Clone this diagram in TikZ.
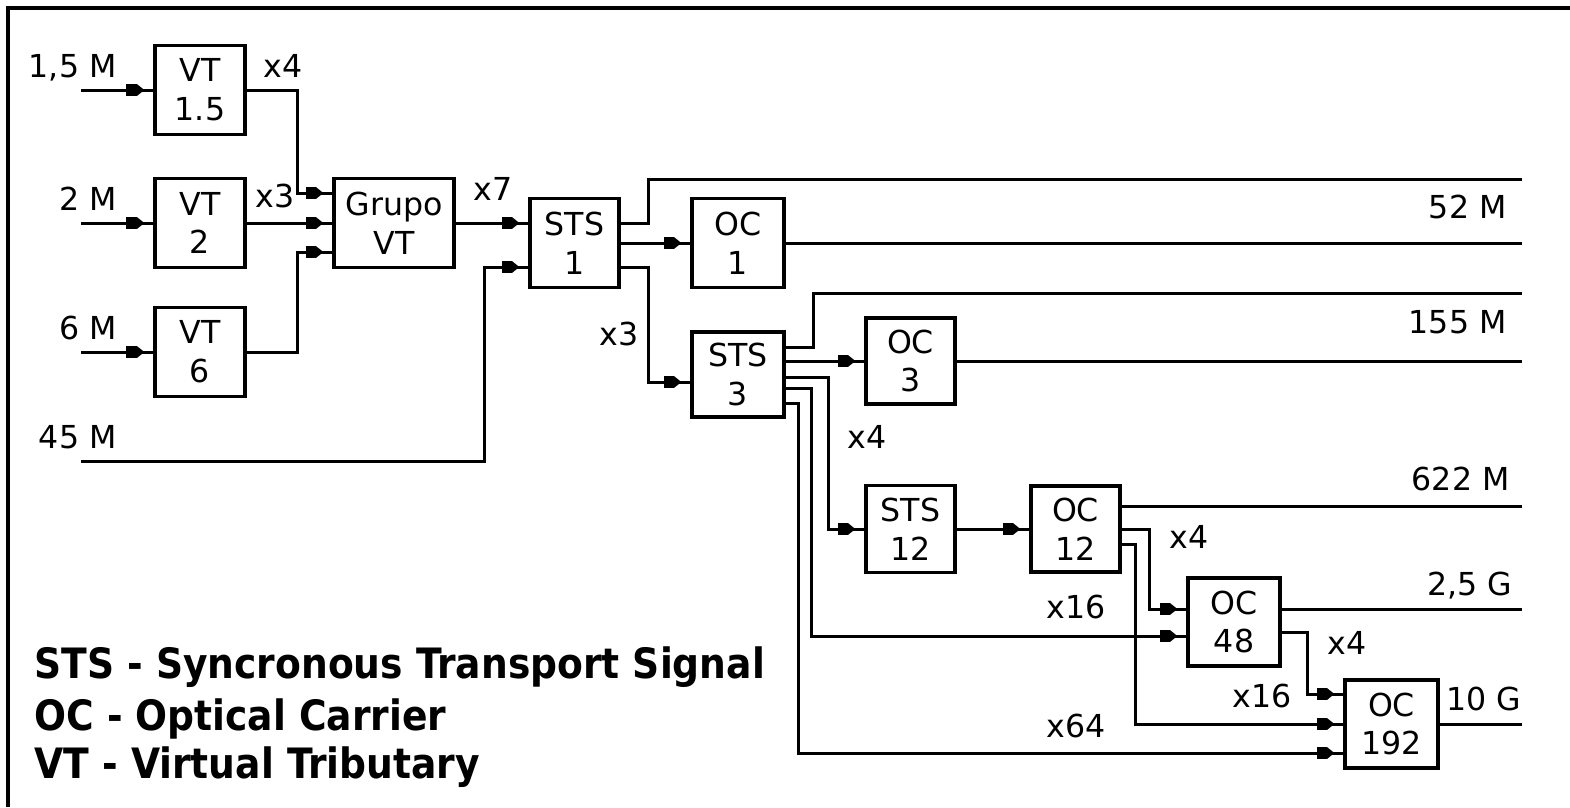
\documentclass[tikz,border=0pt]{standalone}
\usepackage{fontspec}
\setmainfont{DejaVu Sans}
\newfontfamily\legendfont{DejaVu Sans Condensed Bold}
\usetikzlibrary{arrows.meta,decorations.markings}
\begin{document}
\begin{tikzpicture}[x=0.1mm,y=-0.1mm,line width=0.85pt,
  blk/.style={draw,line width=0.9pt,inner sep=0pt,align=center,font=\fontsize{9}{11}\selectfont},
  lbl/.style={inner sep=0pt,font=\fontsize{9}{11}\selectfont},
  conn/.style={postaction={decorate},decoration={markings,mark=at position -0.9mm with {\arrow{Rectangle[length=3pt,width=3.6pt] Triangle[length=2.1pt,width=3.2pt]}}}},
  legend/.style={inner sep=0pt,anchor=base west,font=\legendfont\fontsize{11.9}{14}\selectfont}]
\fill[white] (0,0) rectangle (1570,807);
\useasboundingbox (0,0) rectangle (1570,807);
\draw[line width=0.9pt] (8,807) -- (8,8) -- (1570,8);

% boxes
\node[blk,minimum width=9mm,minimum height=8.9mm] (vt15) at (200,90) {VT\\1.5};
\node[blk,minimum width=9mm,minimum height=8.9mm] (vt2) at (200,223) {VT\\2};
\node[blk,minimum width=9mm,minimum height=8.9mm] (vt6) at (200,352) {VT\\6};
\node[blk,minimum width=12mm,minimum height=8.9mm] (grupo) at (394,223) {Grupo\\VT};
\node[blk,minimum width=8.9mm,minimum height=8.9mm] (sts1) at (574.5,243) {STS\\1};
\node[blk,minimum width=9.2mm,minimum height=8.9mm] (oc1) at (738,243) {OC\\1};
\node[blk,minimum width=9.2mm,minimum height=8.5mm] (sts3) at (738,374.5) {STS\\3};
\node[blk,minimum width=8.9mm,minimum height=8.6mm] (oc3) at (910.5,361) {OC\\3};
\node[blk,minimum width=8.9mm,minimum height=8.7mm] (sts12) at (910.5,529) {STS\\12};
\node[blk,minimum width=8.9mm,minimum height=8.6mm] (oc12) at (1075.5,529) {OC\\12};
\node[blk,minimum width=9.2mm,minimum height=8.8mm] (oc48) at (1234,622) {OC\\48};
\node[blk,minimum width=9.3mm,minimum height=8.8mm] (oc192) at (1391.5,724) {OC\\192};

% free ends
\coordinate (i15) at (81,90);
\coordinate (i2) at (81,223);
\coordinate (i6) at (81,352);
\coordinate (i45) at (81,461);
\coordinate (o52) at (1522,179);
\coordinate (o52b) at (1522,243);
\coordinate (o155) at (1522,293);
\coordinate (o155b) at (1522,361);
\coordinate (o622) at (1522,506);
\coordinate (o25) at (1522,609);
\coordinate (o10) at (1522,724);

% connectors
\draw[conn] (i15) -- (vt15.west);
\draw[conn] (i2) -- (vt2.west);
\draw[conn] (i6) -- (vt6.west);
\draw[conn] (vt15.east) -- (297,90) -- (297,193) -- (grupo.west |- 0,193);
\draw[conn] (vt2.east) -- (grupo.west);
\draw[conn] (vt6.east) -- (297,352) -- (297,252) -- (grupo.west |- 0,252);
\draw[conn] (grupo.east) -- (sts1.west |- 0,223);
\draw[conn] (i45) -- (484,461) -- (484,267) -- (sts1.west |- 0,267);
\draw (sts1.east |- 0,223) -- (648,223) -- (648,179) -- (o52);
\draw[conn] (sts1.east) -- (oc1.west);
\draw (oc1.east) -- (o52b);
\draw[conn] (sts1.east |- 0,267) -- (648,267) -- (648,382) -- (sts3.west |- 0,382);
\draw (sts3.east |- 0,347) -- (813,347) -- (813,293) -- (o155);
\draw[conn] (sts3.east |- 0,361) -- (oc3.west);
\draw (oc3.east) -- (o155b);
\draw[conn] (sts3.east |- 0,377) -- (828,377) -- (828,529) -- (sts12.west);
\draw[conn] (sts3.east |- 0,388) -- (811,388) -- (811,636) -- (oc48.west |- 0,636);
\draw[conn] (sts3.east |- 0,403) -- (798,403) -- (798,753) -- (oc192.west |- 0,753);
\draw[conn] (sts12.east) -- (oc12.west);
\draw (oc12.east |- 0,506) -- (o622);
\draw[conn] (oc12.east |- 0,529) -- (1149,529) -- (1149,609) -- (oc48.west |- 0,609);
\draw[conn] (oc12.east |- 0,544) -- (1135,544) -- (1135,724) -- (oc192.west);
\draw (oc48.east |- 0,609) -- (o25);
\draw[conn] (oc48.east |- 0,632) -- (1307,632) -- (1307,694) -- (oc192.west |- 0,694);
\draw (oc192.east) -- (o10);

% labels
\node[lbl,anchor=base east] (t15) at (118,77) {1,5 M};
\node[lbl,anchor=base east] (t2) at (118,210) {2 M};
\node[lbl,anchor=base east] (t6) at (118,339) {6 M};
\node[lbl,anchor=base east] (t45) at (118,448) {45 M};
\node[lbl,anchor=base east] (t52) at (1508,218) {52 M};
\node[lbl,anchor=base east] (t155) at (1508,333) {155 M};
\node[lbl,anchor=base east] (t622) at (1511,490) {622 M};
\node[lbl,anchor=base east] (t25) at (1514,595) {2,5 G};
\node[lbl,anchor=base east] (t10) at (1523,710) {10 G};
\node[lbl,anchor=base west] (m1) at (262,77) {x4};
\node[lbl,anchor=base west] (m2) at (254,207) {x3};
\node[lbl,anchor=base west] (m3) at (472,200) {x7};
\node[lbl,anchor=base west] (m4) at (598,345) {x3};
\node[lbl,anchor=base west] (m5) at (846,448) {x4};
\node[lbl,anchor=base west] (m6) at (1168,548) {x4};
\node[lbl,anchor=base west] (m7) at (1045,618) {x16};
\node[lbl,anchor=base west] (m8) at (1326,654) {x4};
\node[lbl,anchor=base west] (m9) at (1231,707) {x16};
\node[lbl,anchor=base west] (m10) at (1045,737) {x64};

% legend
\node[legend] (lg1) at (33,678) {STS - Syncronous Transport Signal};
\node[legend] (lg2) at (33,730) {OC - Optical Carrier};
\node[legend] (lg3) at (33,778) {VT - Virtual Tributary};
\end{tikzpicture}
\end{document}
